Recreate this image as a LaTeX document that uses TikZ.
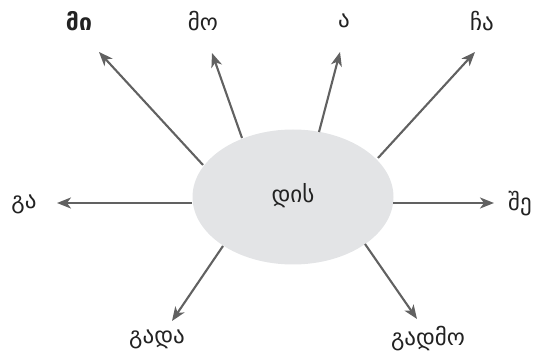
\documentclass[tikz,border=0pt]{standalone}
\usepackage{fontspec}
\setmainfont{DejaVu Sans}
\usetikzlibrary{arrows.meta,shapes.geometric}
\definecolor{arrowgray}{HTML}{616161}
\definecolor{ellfill}{HTML}{E3E4E6}
\definecolor{txt}{HTML}{222222}
\tikzset{
  conn/.style={draw=arrowgray, line width=2.1pt, -{Stealth[length=14pt,width=11pt,inset=4pt]}},
  lbl/.style={text=txt, font=\fontsize{23}{26}\selectfont, inner sep=0pt},
  hub/.style={ellipse, fill=ellfill, minimum width=201pt, minimum height=135pt, inner sep=0pt}
}
\begin{document}
\begin{tikzpicture}[x=1pt,y=-1pt]
\useasboundingbox (0,0) rectangle (540,352);
\node[hub] (c) at (293,197) {};
\node[lbl] (ct) at (293,196) {დის};
\node[lbl, font=\fontsize{23}{26}\selectfont\bfseries] (mi) at (79,21) {მი};
\node[lbl] (mo) at (203,21) {მო};
\node[lbl] (a) at (344,21) {ა};
\node[lbl] (cha) at (482,21) {ჩა};
\node[lbl] (ga) at (24,204) {გა};
\node[lbl] (she) at (520,204) {შე};
\node[lbl] (gada) at (157,339) {გადა};
\node[lbl] (gadmo) at (428,339) {გადმო};
\coordinate (s1) at (203,165); \coordinate (t1) at (99,52);
\coordinate (s2) at (242,138); \coordinate (t2) at (212,53);
\coordinate (s3) at (319,132); \coordinate (t3) at (340,52);
\coordinate (s4) at (378,158); \coordinate (t4) at (475,52);
\coordinate (s5) at (192,203); \coordinate (t5) at (57,203);
\coordinate (s6) at (393,203); \coordinate (t6) at (494,203);
\coordinate (s7) at (223,246); \coordinate (t7) at (172,321);
\coordinate (s8) at (365,244); \coordinate (t8) at (417,319);
\foreach \i in {1,...,8} \draw[conn] (s\i) -- (t\i);
\end{tikzpicture}
\end{document}
